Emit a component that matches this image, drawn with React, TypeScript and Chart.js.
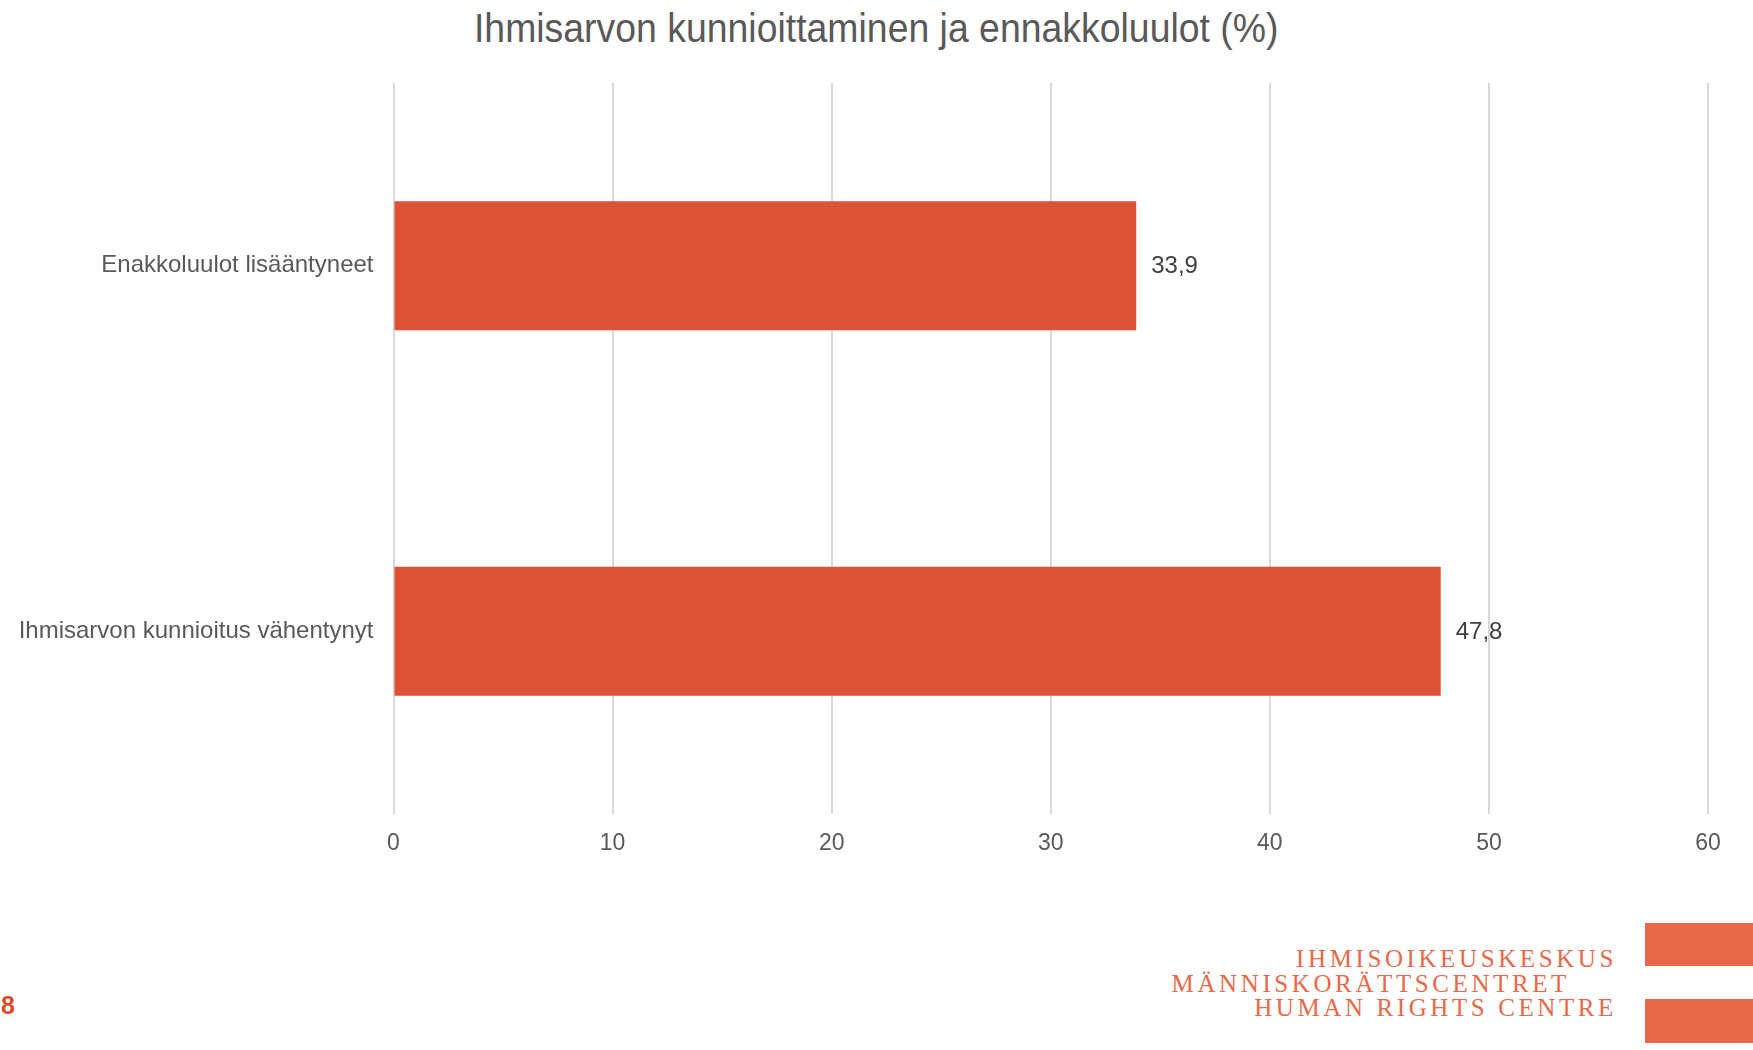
import React, { useEffect, useRef } from "react";
import { Chart, registerables } from "chart.js";

Chart.register(...registerables);

const TITLE = "Ihmisarvon kunnioittaminen ja ennakkoluulot (%)";
const categories = ["Enakkoluulot lisääntyneet", "Ihmisarvon kunnioitus vähentynyt"];
const values = [33.9, 47.8];
const valueLabels = ["33,9", "47,8"];
const xTicks = [0, 10, 20, 30, 40, 50, 60];
const logoLines = ["IHMISOIKEUSKESKUS", "MÄNNISKORÄTTSCENTRET", "HUMAN RIGHTS CENTRE"];
const pageNumber = "8";

const FONT = '"Liberation Sans", Arial, sans-serif';
const BAR = "#DD5234";
const LOGO = "#E8694A";

const valueLabelPlugin = {
  id: "valueLabels",
  afterDatasetsDraw(chart: any) {
    const ctx = chart.ctx;
    const meta = chart.getDatasetMeta(0);
    ctx.save();
    ctx.font = `24px ${FONT}`;
    ctx.fillStyle = "#404040";
    ctx.textAlign = "left";
    ctx.textBaseline = "middle";
    meta.data.forEach((bar: any, i: number) => {
      ctx.fillText(valueLabels[i], bar.x + 15, bar.y + 1);
    });
    ctx.restore();
  },
};

export default function App() {
  const ref = useRef<HTMLCanvasElement>(null);
  useEffect(() => {
    document.body.style.margin = "0";
    const chart = new Chart(ref.current!, {
      type: "bar",
      data: {
        labels: categories,
        datasets: [
          {
            data: values,
            backgroundColor: BAR,
            borderWidth: 0,
            barPercentage: 0.353,
            categoryPercentage: 1,
          },
        ],
      },
      options: {
        indexAxis: "y",
        animation: false,
        responsive: false,
        maintainAspectRatio: false,
        layout: { padding: { top: 83, right: 45, left: 0, bottom: 0 } },
        plugins: { legend: { display: false }, tooltip: { enabled: false }, title: { display: false } },
        scales: {
          x: {
            min: 0,
            max: 60,
            afterBuildTicks: (scale: any) => {
              scale.ticks = xTicks.map((v) => ({ value: v }));
            },
            afterFit: (scale: any) => {
              scale.height = 60;
            },
            grid: { color: "#D9D9D9", lineWidth: 2, drawTicks: false },
            border: { display: false },
            ticks: { color: "#595959", font: { family: FONT, size: 23 }, padding: 16, maxRotation: 0 },
          },
          y: {
            afterFit: (scale: any) => {
              scale.width = 393.5;
            },
            grid: { display: false, drawTicks: false },
            border: { display: false },
            ticks: { color: "#595959", font: { family: FONT, size: 24 }, padding: 20 },
          },
        },
      },
      plugins: [valueLabelPlugin],
    } as any);
    return () => chart.destroy();
  }, []);

  const logoRights = [136, 183, 136];
  const logoCenters = [959, 984, 1008];

  return (
    <div style={{ position: "fixed", left: 0, top: 0, width: 1753, height: 1050, background: "#fff", overflow: "hidden" }}>
      <div
        style={{
          position: "absolute",
          left: 0,
          width: 1753,
          top: 6,
          textAlign: "center",
          fontFamily: FONT,
          fontSize: 40,
          lineHeight: "44px",
          color: "#595959",
        }}
      >
        <span style={{ display: "inline-block", transform: "scaleX(0.935)" }}>{TITLE}</span>
      </div>
      <canvas ref={ref} width={1753} height={874} style={{ position: "absolute", left: 0, top: 0, width: 1753, height: 874 }} />
      {logoLines.map((t, i) => (
        <div
          key={t}
          style={{
            position: "absolute",
            right: logoRights[i],
            top: logoCenters[i] - 12,
            fontFamily: '"Liberation Serif", "DejaVu Serif", serif',
            fontSize: 25,
            lineHeight: "24px",
            letterSpacing: "3.6px",
            color: LOGO,
            whiteSpace: "nowrap",
          }}
        >
          {t}
        </div>
      ))}
      <div style={{ position: "absolute", left: 1645, top: 923, width: 108, height: 43, background: LOGO }} />
      <div style={{ position: "absolute", left: 1645, top: 999, width: 108, height: 44, background: LOGO }} />
      <div
        style={{
          position: "absolute",
          left: 1,
          top: 990,
          fontFamily: FONT,
          fontWeight: "bold",
          fontSize: 25,
          lineHeight: "30px",
          color: "#E04A2C",
        }}
      >
        {pageNumber}
      </div>
    </div>
  );
}
